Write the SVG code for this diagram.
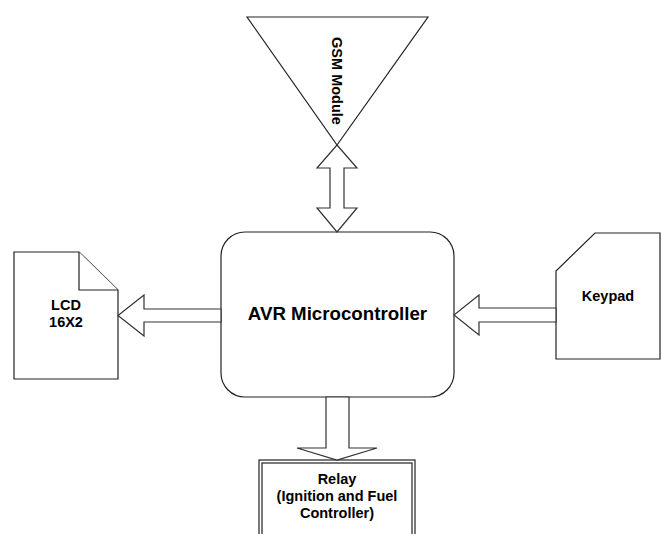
<svg xmlns="http://www.w3.org/2000/svg" width="662" height="534" viewBox="0 0 662 534">
<style>
.s{fill:#fff;stroke:#222;stroke-width:1.2}
.a{fill:#fff;stroke:#333;stroke-width:1.2;stroke-linejoin:miter}
.t{font-family:"Liberation Sans",Arial,sans-serif;font-weight:bold;fill:#000;text-anchor:middle}
</style>
<rect width="662" height="534" fill="#fff"/>
<g id="gsm">
<polygon class="s" points="247,17 428,17 337,145"/>
<text class="t" font-size="14.5" transform="translate(337,81) rotate(90)" dominant-baseline="central">GSM Module</text>
</g>
<g id="avr">
<rect class="s" x="221" y="232" width="233" height="165" rx="24" ry="24"/>
<text class="t" font-size="18.7" x="337.5" y="320">AVR Microcontroller</text>
</g>
<g id="lcd">
<path class="s" d="M14,252 H79 L118,290 V379 H14 Z"/>
<path class="s" d="M79,252 V290 H118" fill="none"/>
<text class="t" font-size="14.5" x="66" y="310">LCD</text>
<text class="t" font-size="14.5" x="66" y="327">16X2</text>
</g>
<g id="keypad">
<path class="s" d="M595,233 H660 V359 H556 V271 Z"/>
<text class="t" font-size="14.5" x="608" y="301">Keypad</text>
</g>
<g id="relay">
<rect class="s" x="259" y="460" width="156" height="90"/>
<rect class="s" x="262" y="463" width="150" height="84"/>
<text class="t" font-size="14.5" x="337" y="484">Relay</text>
<text class="t" font-size="14.5" x="337" y="501">(Ignition and Fuel</text>
<text class="t" font-size="14.5" x="337" y="518">Controller)</text>
</g>
<g id="connectors">
<polygon class="a" points="337,145 317,168 330,168 330,208 317,208 337,232 357,208 344,208 344,168 357,168"/>
<polygon class="a" points="221,309 144,309 144,295 118,315.5 144,336 144,322 221,322"/>
<polygon class="a" points="556,308 479,308 479,295 454,315 479,335 479,322 556,322"/>
<polygon class="a" points="326,397 326,448 297,448 337,460 377,448 349,448 349,397"/>
</g>
</svg>
